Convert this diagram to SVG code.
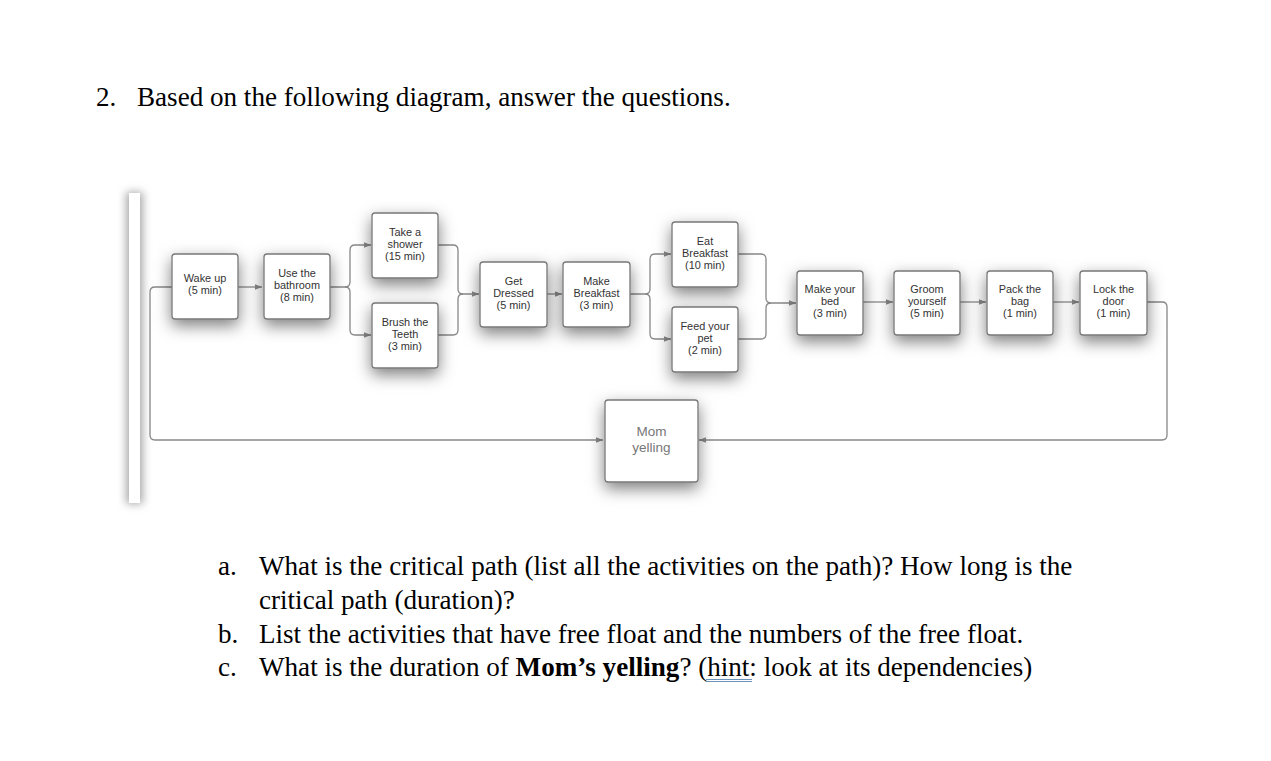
<svg xmlns="http://www.w3.org/2000/svg" width="1271" height="761" viewBox="0 0 1271 761">
<defs>
<filter id="sh" x="-60%" y="-60%" width="220%" height="220%">
<feDropShadow dx="0" dy="6" stdDeviation="8" flood-color="#000" flood-opacity="0.5"/>
</filter>
<filter id="bl" x="-200%" y="-10%" width="500%" height="120%">
<feGaussianBlur stdDeviation="4"/>
</filter>
<marker id="ar" viewBox="0 0 10 10" refX="10" refY="5" markerWidth="7" markerHeight="7" markerUnits="userSpaceOnUse" orient="auto">
<path d="M0,1 L10,5 L0,9 Z" fill="#888"/>
</marker>
<style>
.box{fill:#fff;stroke:#777;stroke-width:1.3;filter:url(#sh)}
.lbl{font-family:"Liberation Sans",Arial,sans-serif;font-size:10.9px;fill:#333;text-anchor:middle}
.mom{font-family:"Liberation Sans",Arial,sans-serif;font-size:13.5px;fill:#777;text-anchor:middle}
.c{fill:none;stroke:#888;stroke-width:1.3}
.t{font-family:"Liberation Serif","Times New Roman",serif;font-size:27.1px;fill:#000}
</style>
</defs>
<rect width="1271" height="761" fill="#fff"/>

<text class="t" x="96" y="106">2.</text>
<text class="t" x="137" y="106">Based on the following diagram, answer the questions.</text>

<g id="sidebar">
<rect x="126" y="192" width="17" height="312" fill="#aaa" filter="url(#bl)"/>
<rect x="129" y="193" width="11" height="310" fill="#fff"/>
</g>

<g id="connectors">
<path class="c" d="M238,287 H262" marker-end="url(#ar)"/>
<path class="c" d="M330,287 H345 Q350,287 350,282 V250 Q350,245 355,245 H371" marker-end="url(#ar)"/>
<path class="c" d="M345,287 Q350,287 350,292 V330 Q350,335 355,335 H371" marker-end="url(#ar)"/>
<path class="c" d="M438,245 H453 Q458,245 458,250 V289 Q458,294 463,294 H479" marker-end="url(#ar)"/>
<path class="c" d="M438,335 H453 Q458,335 458,330 V299 Q458,294 463,294"/>
<path class="c" d="M547,294 H562" marker-end="url(#ar)"/>
<path class="c" d="M630,294 H645 Q650,294 650,289 V259 Q650,254 655,254 H671" marker-end="url(#ar)"/>
<path class="c" d="M645,294 Q650,294 650,299 V334 Q650,339 655,339 H671" marker-end="url(#ar)"/>
<path class="c" d="M738,254 H761 Q766,254 766,259 V298 Q766,303 771,303 H796" marker-end="url(#ar)"/>
<path class="c" d="M738,339 H761 Q766,339 766,334 V308 Q766,303 771,303"/>
<path class="c" d="M863,302 H893" marker-end="url(#ar)"/>
<path class="c" d="M960,302 H986" marker-end="url(#ar)"/>
<path class="c" d="M1053,302 H1079" marker-end="url(#ar)"/>
<path class="c" d="M1147,302 H1162 Q1167,302 1167,307 V435 Q1167,440 1162,440 H699" marker-end="url(#ar)"/>
<path class="c" d="M172,287 H155 Q150,287 150,292 V435 Q150,440 155,440 H603" marker-end="url(#ar)"/>
</g>

<g id="wake">
<rect class="box" x="172" y="254" width="66" height="65" rx="3"/>
<text class="lbl"><tspan x="205" y="282">Wake up</tspan><tspan x="205" y="294">(5 min)</tspan></text>
</g>
<g id="bathroom">
<rect class="box" x="264" y="254" width="66" height="65" rx="3"/>
<text class="lbl"><tspan x="297" y="277">Use the</tspan><tspan x="297" y="289">bathroom</tspan><tspan x="297" y="301">(8 min)</tspan></text>
</g>
<g id="shower">
<rect class="box" x="372" y="213" width="66" height="65" rx="3"/>
<text class="lbl"><tspan x="405" y="236">Take a</tspan><tspan x="405" y="248">shower</tspan><tspan x="405" y="260">(15 min)</tspan></text>
</g>
<g id="teeth">
<rect class="box" x="372" y="303" width="66" height="65" rx="3"/>
<text class="lbl"><tspan x="405" y="326">Brush the</tspan><tspan x="405" y="338">Teeth</tspan><tspan x="405" y="350">(3 min)</tspan></text>
</g>
<g id="dressed">
<rect class="box" x="480" y="262" width="67" height="65" rx="3"/>
<text class="lbl"><tspan x="513.5" y="285">Get</tspan><tspan x="513.5" y="297">Dressed</tspan><tspan x="513.5" y="309">(5 min)</tspan></text>
</g>
<g id="makebreakfast">
<rect class="box" x="563" y="262" width="67" height="65" rx="3"/>
<text class="lbl"><tspan x="596.5" y="285">Make</tspan><tspan x="596.5" y="297">Breakfast</tspan><tspan x="596.5" y="309">(3 min)</tspan></text>
</g>
<g id="eat">
<rect class="box" x="672" y="222" width="66" height="65" rx="3"/>
<text class="lbl"><tspan x="705" y="245">Eat</tspan><tspan x="705" y="257">Breakfast</tspan><tspan x="705" y="269">(10 min)</tspan></text>
</g>
<g id="pet">
<rect class="box" x="672" y="307" width="66" height="65" rx="3"/>
<text class="lbl"><tspan x="705" y="330">Feed your</tspan><tspan x="705" y="342">pet</tspan><tspan x="705" y="354">(2 min)</tspan></text>
</g>
<g id="bed">
<rect class="box" x="797" y="271" width="66" height="64" rx="3"/>
<text class="lbl"><tspan x="830" y="293">Make your</tspan><tspan x="830" y="305">bed</tspan><tspan x="830" y="317">(3 min)</tspan></text>
</g>
<g id="groom">
<rect class="box" x="894" y="271" width="66" height="64" rx="3"/>
<text class="lbl"><tspan x="927" y="293">Groom</tspan><tspan x="927" y="305">yourself</tspan><tspan x="927" y="317">(5 min)</tspan></text>
</g>
<g id="pack">
<rect class="box" x="987" y="271" width="66" height="64" rx="3"/>
<text class="lbl"><tspan x="1020" y="293">Pack the</tspan><tspan x="1020" y="305">bag</tspan><tspan x="1020" y="317">(1 min)</tspan></text>
</g>
<g id="lock">
<rect class="box" x="1080" y="271" width="67" height="64" rx="3"/>
<text class="lbl"><tspan x="1113.5" y="293">Lock the</tspan><tspan x="1113.5" y="305">door</tspan><tspan x="1113.5" y="317">(1 min)</tspan></text>
</g>
<g id="mom">
<rect class="box" x="605" y="400" width="93" height="82" rx="3"/>
<text class="mom"><tspan x="651.5" y="436">Mom</tspan><tspan x="651.5" y="452">yelling</tspan></text>
</g>

<text class="t" x="218" y="575">a.</text>
<text class="t" x="259" y="575">What is the critical path (list all the activities on the path)? How long is the</text>
<text class="t" x="259" y="609">critical path (duration)?</text>
<text class="t" x="218" y="643">b.</text>
<text class="t" x="259" y="643">List the activities that have free float and the numbers of the free float.</text>
<text class="t" x="218" y="676">c.</text>
<text class="t" x="259" y="676">What is the duration of <tspan font-weight="bold">Mom’s yelling</tspan>? (hint: look at its dependencies)</text>
<g id="hint-underline" stroke="#5b86b0" stroke-width="0.9">
<line x1="706" y1="679.5" x2="752" y2="679.5"/>
<line x1="706" y1="681.5" x2="752" y2="681.5"/>
</g>
</svg>
